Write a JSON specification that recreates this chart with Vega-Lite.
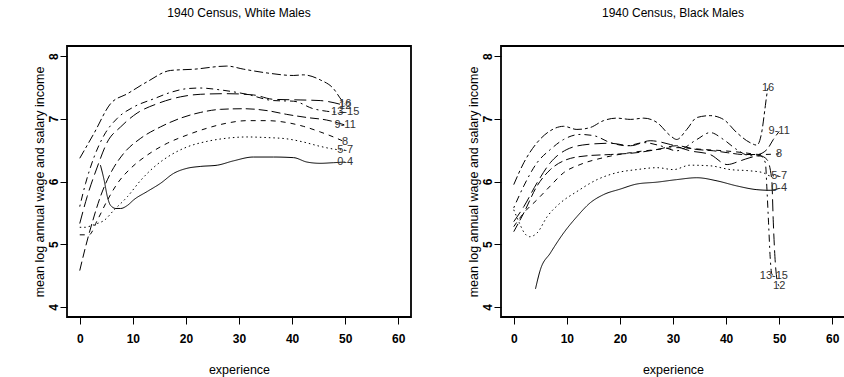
{
  "$schema": "https://vega.github.io/schema/vega-lite/v6.json",
  "padding": {"left": 32, "top": 6, "right": 0, "bottom": 0},
  "spacing": 90,
  "bounds": "flush",
  "config": {
    "font": "Liberation Sans",
    "view": {"stroke": "black", "strokeWidth": 1.8},
    "axis": {
      "grid": false, "domain": false, "tickColor": "black", "tickSize": 7, "tickWidth": 1,
      "labelFont": "Liberation Sans", "labelFontWeight": "bold", "labelFontSize": 12, "labelColor": "black",
      "titleFont": "Liberation Sans", "titleFontWeight": "normal", "titleFontSize": 12.5, "titleColor": "black"
    },
    "title": {"font": "Liberation Sans", "fontSize": 12, "fontWeight": "normal", "color": "black", "offset": 26}
  },
  "datasets": {
    "white": [
      {"educ":"0-4","exp":3.9,"inc":6.26},{"educ":"0-4","exp":4.6,"inc":6.02},{"educ":"0-4","exp":5.2,"inc":5.76},{"educ":"0-4","exp":5.8,"inc":5.62},{"educ":"0-4","exp":6.8,"inc":5.57},{"educ":"0-4","exp":7.7,"inc":5.57},{"educ":"0-4","exp":9.0,"inc":5.62},{"educ":"0-4","exp":10.2,"inc":5.71},{"educ":"0-4","exp":12.7,"inc":5.84},{"educ":"0-4","exp":15.2,"inc":5.97},{"educ":"0-4","exp":17.7,"inc":6.13},{"educ":"0-4","exp":20.2,"inc":6.21},{"educ":"0-4","exp":22.7,"inc":6.24},{"educ":"0-4","exp":25.9,"inc":6.26},{"educ":"0-4","exp":29,"inc":6.33},{"educ":"0-4","exp":32.7,"inc":6.39},{"educ":"0-4","exp":36.5,"inc":6.39},{"educ":"0-4","exp":40.3,"inc":6.38},{"educ":"0-4","exp":42.8,"inc":6.31},{"educ":"0-4","exp":45.3,"inc":6.29},{"educ":"0-4","exp":47.8,"inc":6.30},{"educ":"0-4","exp":50,"inc":6.31},
      {"educ":"5-7","exp":0,"inc":5.27},{"educ":"5-7","exp":1,"inc":5.27},{"educ":"5-7","exp":2,"inc":5.29},{"educ":"5-7","exp":3.3,"inc":5.33},{"educ":"5-7","exp":4.6,"inc":5.38},{"educ":"5-7","exp":6.4,"inc":5.54},{"educ":"5-7","exp":9,"inc":5.76},{"educ":"5-7","exp":11.5,"inc":6.02},{"educ":"5-7","exp":14,"inc":6.23},{"educ":"5-7","exp":17.1,"inc":6.42},{"educ":"5-7","exp":20.2,"inc":6.55},{"educ":"5-7","exp":24,"inc":6.64},{"educ":"5-7","exp":27.7,"inc":6.69},{"educ":"5-7","exp":31.5,"inc":6.71},{"educ":"5-7","exp":35.3,"inc":6.70},{"educ":"5-7","exp":39,"inc":6.68},{"educ":"5-7","exp":42.1,"inc":6.63},{"educ":"5-7","exp":45.3,"inc":6.56},{"educ":"5-7","exp":48.4,"inc":6.51},{"educ":"5-7","exp":50,"inc":6.50},
      {"educ":"8","exp":0,"inc":5.15},{"educ":"8","exp":1.75,"inc":5.15},{"educ":"8","exp":3.3,"inc":5.38},{"educ":"8","exp":5.2,"inc":5.70},{"educ":"8","exp":7.1,"inc":5.97},{"educ":"8","exp":9.6,"inc":6.21},{"educ":"8","exp":12.7,"inc":6.42},{"educ":"8","exp":16.5,"inc":6.61},{"educ":"8","exp":20.2,"inc":6.74},{"educ":"8","exp":24,"inc":6.85},{"educ":"8","exp":27.7,"inc":6.93},{"educ":"8","exp":31.5,"inc":6.97},{"educ":"8","exp":35.3,"inc":6.97},{"educ":"8","exp":39,"inc":6.94},{"educ":"8","exp":42.1,"inc":6.88},{"educ":"8","exp":45.3,"inc":6.79},{"educ":"8","exp":47.8,"inc":6.71},{"educ":"8","exp":50,"inc":6.63},
      {"educ":"9-11","exp":0,"inc":4.58},{"educ":"9-11","exp":1.1,"inc":4.96},{"educ":"9-11","exp":2.4,"inc":5.36},{"educ":"9-11","exp":3.9,"inc":5.76},{"educ":"9-11","exp":5.8,"inc":6.13},{"educ":"9-11","exp":8.3,"inc":6.45},{"educ":"9-11","exp":11.5,"inc":6.69},{"educ":"9-11","exp":15.2,"inc":6.87},{"educ":"9-11","exp":19,"inc":7.01},{"educ":"9-11","exp":22.7,"inc":7.10},{"educ":"9-11","exp":26.5,"inc":7.15},{"educ":"9-11","exp":30.9,"inc":7.16},{"educ":"9-11","exp":35.3,"inc":7.13},{"educ":"9-11","exp":39,"inc":7.07},{"educ":"9-11","exp":42.8,"inc":7.02},{"educ":"9-11","exp":46.5,"inc":6.98},{"educ":"9-11","exp":50,"inc":6.90},
      {"educ":"12","exp":0,"inc":5.33},{"educ":"12","exp":1.4,"inc":5.76},{"educ":"12","exp":3.3,"inc":6.23},{"educ":"12","exp":5.2,"inc":6.63},{"educ":"12","exp":7.7,"inc":6.87},{"educ":"12","exp":10.8,"inc":7.09},{"educ":"12","exp":14.6,"inc":7.24},{"educ":"12","exp":19,"inc":7.35},{"educ":"12","exp":22.7,"inc":7.39},{"educ":"12","exp":27.7,"inc":7.40},{"educ":"12","exp":32.7,"inc":7.38},{"educ":"12","exp":36.5,"inc":7.31},{"educ":"12","exp":41.5,"inc":7.30},{"educ":"12","exp":45.3,"inc":7.29},{"educ":"12","exp":50,"inc":7.21},
      {"educ":"13-15","exp":0,"inc":5.60},{"educ":"13-15","exp":1.1,"inc":5.97},{"educ":"13-15","exp":2.7,"inc":6.39},{"educ":"13-15","exp":4.6,"inc":6.74},{"educ":"13-15","exp":7.1,"inc":7.01},{"educ":"13-15","exp":10.2,"inc":7.19},{"educ":"13-15","exp":14,"inc":7.32},{"educ":"13-15","exp":17.1,"inc":7.42},{"educ":"13-15","exp":20.2,"inc":7.48},{"educ":"13-15","exp":22.7,"inc":7.49},{"educ":"13-15","exp":26.5,"inc":7.46},{"educ":"13-15","exp":31.5,"inc":7.39},{"educ":"13-15","exp":36.5,"inc":7.29},{"educ":"13-15","exp":40.3,"inc":7.28},{"educ":"13-15","exp":44,"inc":7.16},{"educ":"13-15","exp":46.5,"inc":7.12},{"educ":"13-15","exp":50,"inc":7.10},
      {"educ":"16","exp":0,"inc":6.37},{"educ":"16","exp":2.7,"inc":6.77},{"educ":"16","exp":5.8,"inc":7.24},{"educ":"16","exp":9,"inc":7.40},{"educ":"16","exp":12.7,"inc":7.59},{"educ":"16","exp":17.1,"inc":7.77},{"educ":"16","exp":21.5,"inc":7.79},{"educ":"16","exp":27.7,"inc":7.84},{"educ":"16","exp":30.9,"inc":7.79},{"educ":"16","exp":35.3,"inc":7.73},{"educ":"16","exp":40.3,"inc":7.69},{"educ":"16","exp":42.1,"inc":7.70},{"educ":"16","exp":45.3,"inc":7.62},{"educ":"16","exp":47.8,"inc":7.48},{"educ":"16","exp":49.3,"inc":7.30},{"educ":"16","exp":50,"inc":7.23}
    ],
    "black": [
      {"educ":"0-4","exp":4.1,"inc":4.29},{"educ":"0-4","exp":5,"inc":4.59},{"educ":"0-4","exp":6.9,"inc":4.86},{"educ":"0-4","exp":9.4,"inc":5.18},{"educ":"0-4","exp":11.9,"inc":5.44},{"educ":"0-4","exp":14.4,"inc":5.66},{"educ":"0-4","exp":16.9,"inc":5.79},{"educ":"0-4","exp":20.1,"inc":5.88},{"educ":"0-4","exp":23.2,"inc":5.96},{"educ":"0-4","exp":27,"inc":5.99},{"educ":"0-4","exp":30.7,"inc":6.03},{"educ":"0-4","exp":34.5,"inc":6.06},{"educ":"0-4","exp":38.3,"inc":6.01},{"educ":"0-4","exp":42,"inc":5.93},{"educ":"0-4","exp":45.8,"inc":5.87},{"educ":"0-4","exp":48.3,"inc":5.86},{"educ":"0-4","exp":50,"inc":5.89},
      {"educ":"5-7","exp":0,"inc":5.55},{"educ":"5-7","exp":1,"inc":5.35},{"educ":"5-7","exp":2,"inc":5.18},{"educ":"5-7","exp":3,"inc":5.12},{"educ":"5-7","exp":4.4,"inc":5.18},{"educ":"5-7","exp":6.3,"inc":5.44},{"educ":"5-7","exp":8.8,"inc":5.66},{"educ":"5-7","exp":11.9,"inc":5.84},{"educ":"5-7","exp":15.7,"inc":6.03},{"educ":"5-7","exp":19.4,"inc":6.14},{"educ":"5-7","exp":23.2,"inc":6.19},{"educ":"5-7","exp":27,"inc":6.22},{"educ":"5-7","exp":30.1,"inc":6.19},{"educ":"5-7","exp":33.2,"inc":6.26},{"educ":"5-7","exp":37,"inc":6.25},{"educ":"5-7","exp":40.8,"inc":6.19},{"educ":"5-7","exp":44.5,"inc":6.17},{"educ":"5-7","exp":47,"inc":6.14},{"educ":"5-7","exp":48.3,"inc":6.09},{"educ":"5-7","exp":50,"inc":6.09},
      {"educ":"8","exp":0,"inc":5.28},{"educ":"8","exp":1.9,"inc":5.50},{"educ":"8","exp":4.4,"inc":5.71},{"educ":"8","exp":6.9,"inc":5.93},{"educ":"8","exp":9.4,"inc":6.14},{"educ":"8","exp":12.5,"inc":6.27},{"educ":"8","exp":16.9,"inc":6.38},{"educ":"8","exp":22,"inc":6.46},{"educ":"8","exp":27,"inc":6.51},{"educ":"8","exp":30.7,"inc":6.54},{"educ":"8","exp":35.8,"inc":6.51},{"educ":"8","exp":39.5,"inc":6.49},{"educ":"8","exp":43.3,"inc":6.46},{"educ":"8","exp":46.4,"inc":6.43},{"educ":"8","exp":50,"inc":6.44},
      {"educ":"9-11","exp":0,"inc":5.20},{"educ":"9-11","exp":1.9,"inc":5.50},{"educ":"9-11","exp":4.4,"inc":5.93},{"educ":"9-11","exp":6.9,"inc":6.19},{"educ":"9-11","exp":10,"inc":6.35},{"educ":"9-11","exp":13.8,"inc":6.41},{"educ":"9-11","exp":18.2,"inc":6.43},{"educ":"9-11","exp":23.2,"inc":6.46},{"educ":"9-11","exp":27,"inc":6.51},{"educ":"9-11","exp":30.7,"inc":6.57},{"educ":"9-11","exp":34.5,"inc":6.51},{"educ":"9-11","exp":37.6,"inc":6.49},{"educ":"9-11","exp":40.2,"inc":6.46},{"educ":"9-11","exp":43.3,"inc":6.43},{"educ":"9-11","exp":45.8,"inc":6.43},{"educ":"9-11","exp":47.7,"inc":6.51},{"educ":"9-11","exp":48.9,"inc":6.67},{"educ":"9-11","exp":50,"inc":6.80},
      {"educ":"12","exp":0,"inc":5.36},{"educ":"12","exp":1.9,"inc":5.60},{"educ":"12","exp":4.4,"inc":5.98},{"educ":"12","exp":6.9,"inc":6.30},{"educ":"12","exp":10,"inc":6.51},{"educ":"12","exp":13.8,"inc":6.59},{"educ":"12","exp":18.2,"inc":6.61},{"educ":"12","exp":22,"inc":6.57},{"educ":"12","exp":25.7,"inc":6.65},{"educ":"12","exp":29.5,"inc":6.59},{"educ":"12","exp":33.2,"inc":6.49},{"educ":"12","exp":37,"inc":6.43},{"educ":"12","exp":40.2,"inc":6.27},{"educ":"12","exp":42.7,"inc":6.33},{"educ":"12","exp":44.5,"inc":6.38},{"educ":"12","exp":46.4,"inc":6.41},{"educ":"12","exp":47.7,"inc":6.35},{"educ":"12","exp":48.6,"inc":6.03},{"educ":"12","exp":48.9,"inc":5.34},{"educ":"12","exp":49.2,"inc":4.80},{"educ":"12","exp":49.6,"inc":4.43},{"educ":"12","exp":50,"inc":4.33},
      {"educ":"13-15","exp":0,"inc":5.58},{"educ":"13-15","exp":1.9,"inc":5.93},{"educ":"13-15","exp":4.4,"inc":6.30},{"educ":"13-15","exp":6.9,"inc":6.51},{"educ":"13-15","exp":9.4,"inc":6.67},{"educ":"13-15","exp":12.5,"inc":6.75},{"educ":"13-15","exp":15.1,"inc":6.73},{"educ":"13-15","exp":18.2,"inc":6.62},{"educ":"13-15","exp":21.3,"inc":6.57},{"educ":"13-15","exp":24.5,"inc":6.62},{"educ":"13-15","exp":27.6,"inc":6.57},{"educ":"13-15","exp":30.7,"inc":6.49},{"educ":"13-15","exp":34.5,"inc":6.67},{"educ":"13-15","exp":37,"inc":6.78},{"educ":"13-15","exp":39.5,"inc":6.67},{"educ":"13-15","exp":42,"inc":6.51},{"educ":"13-15","exp":44.5,"inc":6.41},{"educ":"13-15","exp":46.4,"inc":6.41},{"educ":"13-15","exp":47.4,"inc":6.30},{"educ":"13-15","exp":47.7,"inc":5.87},{"educ":"13-15","exp":48,"inc":5.34},{"educ":"13-15","exp":48.3,"inc":4.80},{"educ":"13-15","exp":48.6,"inc":4.53},{"educ":"13-15","exp":49,"inc":4.49},
      {"educ":"16","exp":0,"inc":5.95},{"educ":"16","exp":1.9,"inc":6.30},{"educ":"16","exp":4.4,"inc":6.62},{"educ":"16","exp":6.9,"inc":6.81},{"educ":"16","exp":9.4,"inc":6.88},{"educ":"16","exp":11.9,"inc":6.83},{"educ":"16","exp":14.4,"inc":6.86},{"educ":"16","exp":16.9,"inc":6.97},{"educ":"16","exp":19.4,"inc":7.01},{"educ":"16","exp":22,"inc":6.99},{"educ":"16","exp":24.5,"inc":7.01},{"educ":"16","exp":27,"inc":6.94},{"educ":"16","exp":29.5,"inc":6.73},{"educ":"16","exp":30.7,"inc":6.67},{"educ":"16","exp":32.6,"inc":6.83},{"educ":"16","exp":34.5,"inc":7.02},{"educ":"16","exp":37,"inc":7.05},{"educ":"16","exp":39.5,"inc":6.99},{"educ":"16","exp":42,"inc":6.78},{"educ":"16","exp":44.5,"inc":6.62},{"educ":"16","exp":45.8,"inc":6.58},{"educ":"16","exp":46.7,"inc":6.78},{"educ":"16","exp":47.4,"inc":7.21},{"educ":"16","exp":47.7,"inc":7.40},{"educ":"16","exp":47.9,"inc":7.49}
    ]
  },
  "hconcat": [
    {
      "width": 344, "height": 271,
      "title": {"text": "1940 Census, White Males"},
      "data": {"name": "white"},
      "encoding": {
        "x": {"field": "exp", "type": "quantitative", "scale": {"domain": [-2.4, 62.4], "nice": false, "zero": false}, "axis": {"values": [0,10,20,30,40,50,60], "title": "experience", "labelPadding": 9, "titlePadding": 19}},
        "y": {"field": "inc", "type": "quantitative", "scale": {"domain": [3.84, 8.16], "nice": false, "zero": false}, "axis": {"values": [4,5,6,7,8], "title": "mean log annual wage and salary income", "labelAngle": 270, "labelAlign": "center", "labelBaseline": "bottom", "labelPadding": 0, "titlePadding": 1}}
      },
      "layer": [
        {
          "mark": {"type": "line", "color": "black", "strokeWidth": 1, "interpolate": "monotone"},
          "encoding": {
            "detail": {"field": "educ"},
            "strokeDash": {"field": "educ", "type": "nominal", "legend": null, "scale": {"domain": ["0-4","5-7","8","9-11","12","13-15","16"], "range": [[1,0],[1.5,3],[5,5],[9,4],[12,5],[2,4,7,4],[9,3,3,3]]}}
          }
        },
        {
          "transform": [
            {"joinaggregate": [{"op": "max", "field": "exp", "as": "maxexp"}], "groupby": ["educ"]},
            {"filter": "datum.exp === datum.maxexp"}
          ],
          "mark": {"type": "text", "align": "center", "baseline": "middle", "fontSize": 11, "color": "#333"},
          "encoding": {"text": {"field": "educ"}}
        }
      ]
    },
    {
      "width": 344, "height": 271,
      "title": {"text": "1940 Census, Black Males"},
      "data": {"name": "black"},
      "encoding": {
        "x": {"field": "exp", "type": "quantitative", "scale": {"domain": [-2.4, 62.4], "nice": false, "zero": false}, "axis": {"values": [0,10,20,30,40,50,60], "title": "experience", "labelPadding": 9, "titlePadding": 19}},
        "y": {"field": "inc", "type": "quantitative", "scale": {"domain": [3.84, 8.16], "nice": false, "zero": false}, "axis": {"values": [4,5,6,7,8], "title": "mean log annual wage and salary income", "labelAngle": 270, "labelAlign": "center", "labelBaseline": "bottom", "labelPadding": 0, "titlePadding": 1}}
      },
      "layer": [
        {
          "mark": {"type": "line", "color": "black", "strokeWidth": 1, "interpolate": "monotone"},
          "encoding": {
            "detail": {"field": "educ"},
            "strokeDash": {"field": "educ", "type": "nominal", "legend": null, "scale": {"domain": ["0-4","5-7","8","9-11","12","13-15","16"], "range": [[1,0],[1.5,3],[5,5],[9,4],[12,5],[2,4,7,4],[9,3,3,3]]}}
          }
        },
        {
          "transform": [
            {"joinaggregate": [{"op": "max", "field": "exp", "as": "maxexp"}], "groupby": ["educ"]},
            {"filter": "datum.exp === datum.maxexp"}
          ],
          "mark": {"type": "text", "align": "center", "baseline": "middle", "fontSize": 11, "color": "#333"},
          "encoding": {"text": {"field": "educ"}}
        }
      ]
    }
  ]
}
